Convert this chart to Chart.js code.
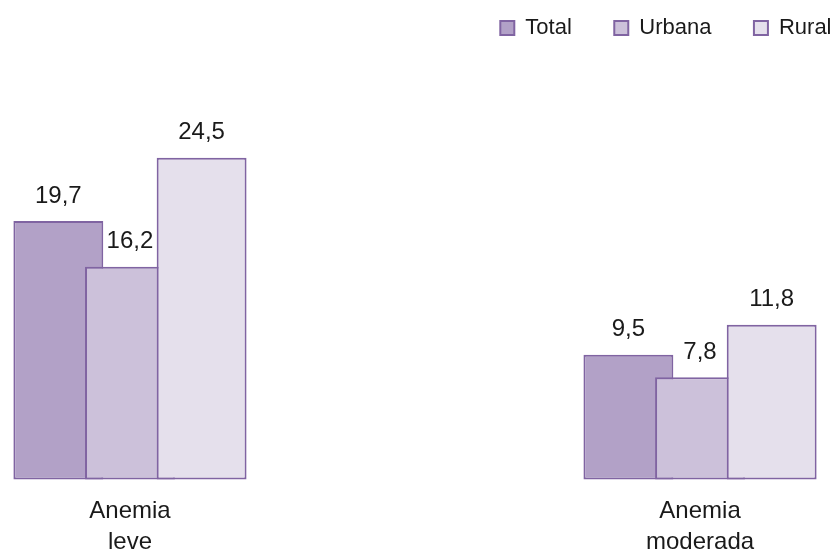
<!DOCTYPE html>
<html>
<head>
<meta charset="utf-8">
<title>Anemia</title>
<script src="https://cdn.jsdelivr.net/npm/chart.js@4.4.1/dist/chart.umd.min.js"></script>
<style>
  html, body { margin: 0; padding: 0; background: #fff; }
  canvas { display: block; }
</style>
</head>
<body>
<canvas id="anemiaChart" width="834" height="556"></canvas>
<script>
const categories = [["Anemia", "leve"], ["Anemia", "moderada"]];
const seriesNames = ["Total", "Urbana", "Rural"];
const totalValues = [19.7, 9.5];
const urbanaValues = [16.2, 7.8];
const ruralValues = [24.5, 11.8];

const fillColors = ["#B2A1C7", "#CCC1DA", "#E5E0EC"];
const edgeColor = "#8064A2";
const textColor = "#1a1a1a";
const fontFamily = "'Liberation Sans', Arial, sans-serif";

Chart.defaults.font.family = fontFamily;
Chart.defaults.color = textColor;

// x is the category index, so the groups can sit anywhere on a linear scale
const toPoints = values => values.map((y, i) => ({ x: i, y }));

// bars overlap, so paint series left to right: each later one covers the previous
const paintInSeriesOrder = {
  id: "paintInSeriesOrder",
  beforeDatasetsDraw(chart) {
    chart.getSortedVisibleDatasetMetas().forEach(meta => meta.controller.draw());
    return false;
  }
};

// value above each bar, decimal comma
const valueLabels = {
  id: "valueLabels",
  afterDraw(chart) {
    const ctx = chart.ctx;
    ctx.save();
    ctx.font = "24px " + fontFamily;
    ctx.fillStyle = textColor;
    ctx.textAlign = "center";
    ctx.textBaseline = "middle";
    chart.getSortedVisibleDatasetMetas().forEach(meta => {
      meta.data.forEach((bar, i) => {
        const v = chart.data.datasets[meta.index].data[i].y;
        ctx.fillText(v.toFixed(1).replace(".", ","), bar.x, bar.y - 25);
      });
    });
    ctx.restore();
  }
};

const seriesValues = [totalValues, urbanaValues, ruralValues];

new Chart(document.getElementById("anemiaChart"), {
  type: "bar",
  data: {
    datasets: seriesNames.map((name, k) => ({
      label: name,
      data: toPoints(seriesValues[k]),
      backgroundColor: fillColors[k],
      borderColor: edgeColor,
      borderWidth: 2,
      borderSkipped: false,
      categoryPercentage: 0.377,
      barPercentage: 1.255
    }))
  },
  options: {
    responsive: false,
    animation: false,
    layout: { padding: { top: -25.5, right: -40, bottom: -18, left: 0 } },
    plugins: {
      legend: {
        align: "end",
        labels: { boxWidth: 14, boxHeight: 14, padding: 42.5, font: { size: 22 } }
      },
      tooltip: { enabled: false }
    },
    scales: {
      x: {
        type: "linear",
        offset: false,
        min: -0.228,
        max: 1.235,
        grid: { display: false, drawTicks: false },
        border: { display: false },
        afterBuildTicks: axis => { axis.ticks = categories.map((c, i) => ({ value: i })); },
        ticks: {
          padding: 16,
          maxRotation: 0,
          autoSkip: false,
          font: { size: 24, lineHeight: 1.3 },
          callback: v => categories[v]
        }
      },
      y: { display: false, min: 0, max: 32.79 }
    }
  },
  plugins: [paintInSeriesOrder, valueLabels]
});
</script>
</body>
</html>
